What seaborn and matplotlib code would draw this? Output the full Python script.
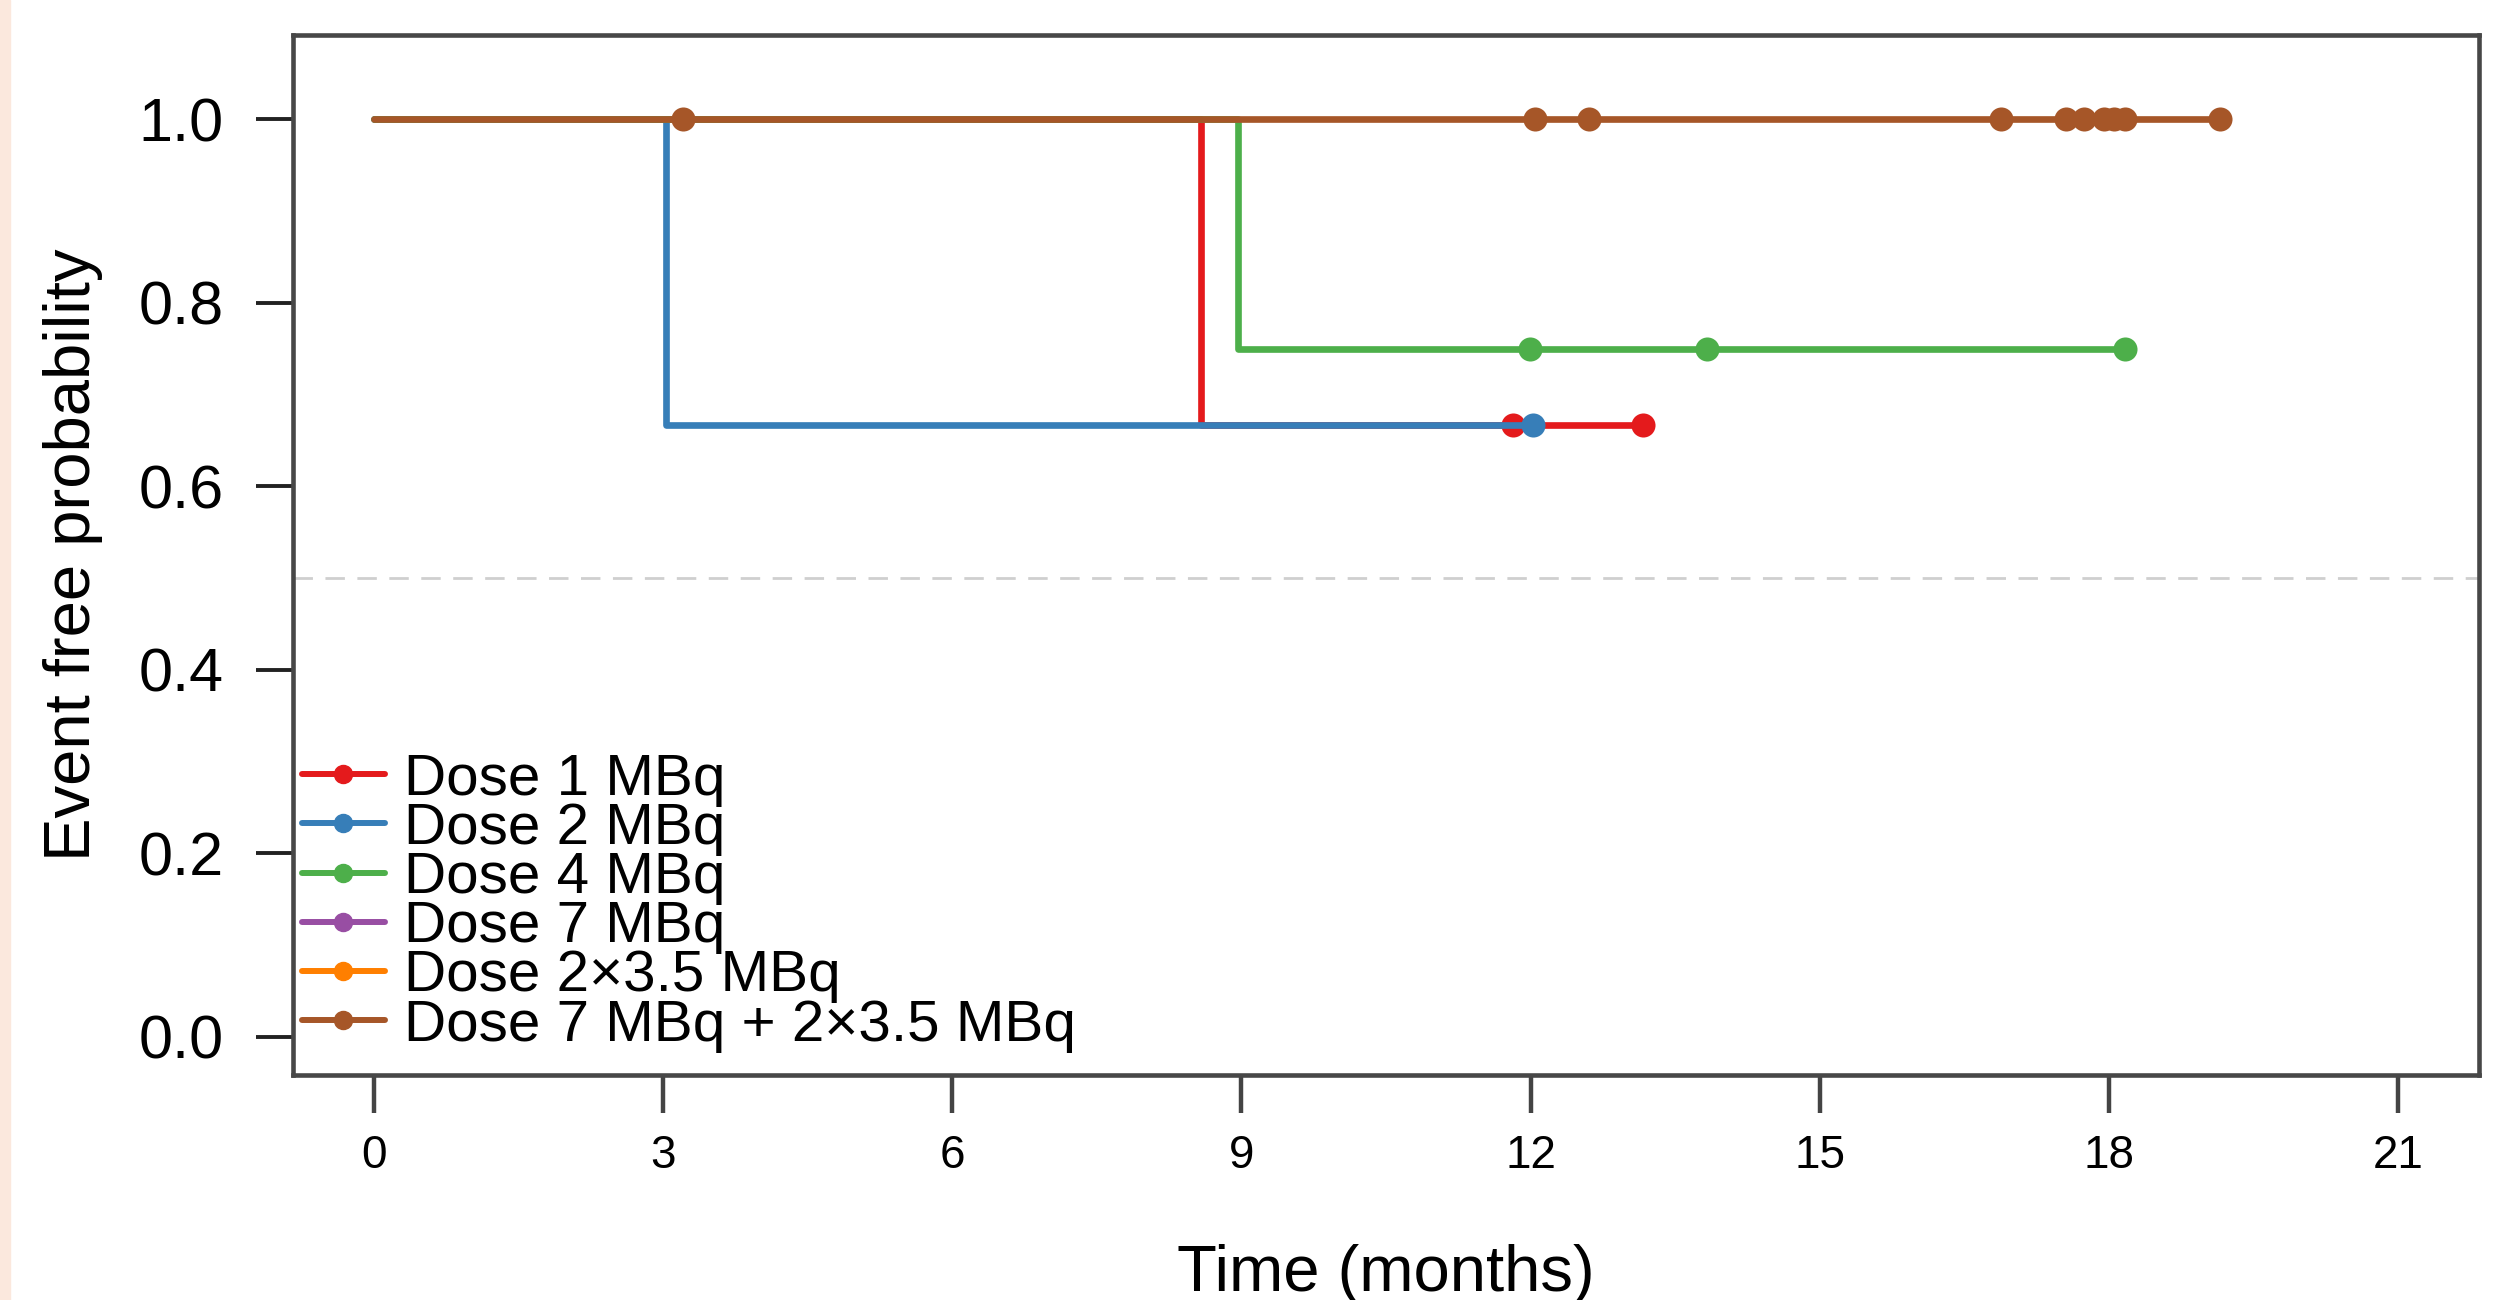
# Kaplan-Meier style event free curves per dose group
import numpy as np
import pandas as pd
import matplotlib.pyplot as plt
import seaborn as sns
from matplotlib.lines import Line2D
from matplotlib.patches import Rectangle

# ---------------------------------------------------
# Data (time in months, event free probability)
# ---------------------------------------------------
groups = ["Dose 1 MBq", "Dose 2 MBq", "Dose 4 MBq", "Dose 7 MBq",
          "Dose 2×3.5 MBq", "Dose 7 MBq + 2×3.5 MBq"]
colors = ["#E41A1C", "#377EB8", "#4DAF4A", "#984EA3", "#FF7F00", "#A65628"]

d1_time = [0, 8.58, 13.17]
d1_prob = [1.0, 0.667, 0.667]
d1_cens = [11.82, 13.17]

d2_time = [0, 3.03, 12.03]
d2_prob = [1.0, 0.667, 0.667]
d2_cens = [12.03]

d4_time = [0, 8.96, 18.17]
d4_prob = [1.0, 0.75, 0.75]
d4_cens = [11.99, 13.83, 18.17]

# 7 MBq and 2x3.5 MBq curves are hidden under the combined curve
d7_time, d7_prob, d7_cens = [], [], []
d35_time, d35_prob, d35_cens = [], [], []

comb_time = [0, 19.15]
comb_prob = [1.0, 1.0]
comb_cens = [3.21, 12.05, 12.61, 16.88, 17.55, 17.74, 17.95, 18.05, 18.17, 19.15]

curves = [(d1_time, d1_prob, d1_cens), (d2_time, d2_prob, d2_cens),
          (d4_time, d4_prob, d4_cens), (d7_time, d7_prob, d7_cens),
          (d35_time, d35_prob, d35_cens), (comb_time, comb_prob, comb_cens)]

step_rows = []
cens_rows = []
for g, (t, p, c) in zip(groups, curves):
    for ti, pi in zip(t, p):
        step_rows.append({"group": g, "time": ti, "prob": pi})
    for ci in c:
        # probability of the step curve at the censoring time
        k = np.searchsorted(t, ci, side="right") - 1
        cens_rows.append({"group": g, "time": ci, "prob": p[k]})
steps = pd.DataFrame(step_rows)
cens = pd.DataFrame(cens_rows)

# ---------------------------------------------------
# Plot
# ---------------------------------------------------
sns.set_style("ticks")
plt.rcParams["font.family"] = ["Liberation Sans", "DejaVu Sans"]
plt.rcParams["text.color"] = "black"
plt.rcParams["axes.labelcolor"] = "black"

fig = plt.figure(figsize=(24.98, 13.0), dpi=100)
fig.patches.append(Rectangle((0, 0), 10 / 2498, 1, transform=fig.transFigure,
                             color="#FBE8DD", zorder=0))
ax = fig.add_axes([0.1173, 0.1727, 0.8751, 0.8004])

# median reference line
ax.axhline(0.5, color="#CFCFCF", lw=2, ls=(0, (7, 4.5)), zorder=1)

for i, (g, col) in enumerate(zip(groups, colors)):
    sub = steps[steps["group"] == g]
    if sub.empty:
        continue
    sns.lineplot(data=sub, x="time", y="prob", color=col, drawstyle="steps-post",
                 estimator=None, sort=False, lw=4.8, ax=ax, legend=False,
                 zorder=3 + 2 * i)
    cs = cens[cens["group"] == g]
    sns.scatterplot(data=cs, x="time", y="prob", color=col, s=300, linewidth=0,
                    ax=ax, legend=False, zorder=4 + 2 * i)

ax.set_xlim(-0.84, 21.84)
ax.set_ylim(-0.042, 1.092)
ax.set_xticks(range(0, 22, 3))
ax.set_yticks([0.0, 0.2, 0.4, 0.6, 0.8, 1.0])
ax.set_yticklabels([f"{v:.1f}" for v in [0.0, 0.2, 0.4, 0.6, 0.8, 1.0]])
ax.tick_params(axis="x", labelsize=33, length=27, width=3.2, pad=15,
               color="#444444", labelcolor="black")
ax.tick_params(axis="y", labelsize=44, length=27, width=2.8, pad=23,
               color="#222222", labelcolor="black")

for s in ax.spines.values():
    s.set_visible(True)
    s.set_linewidth(3.3)
    s.set_color("#474747")

ax.set_xlabel("Time (months)", fontsize=47)
ax.xaxis.set_label_coords(0.5, -0.162)
ax.set_ylabel("Event free probability", fontsize=47)
ax.yaxis.set_label_coords(-0.087, 0.5)

handles = [Line2D([0], [0], color=c, lw=4.3, marker="o", markersize=13) for c in colors]
ax.legend(handles, groups, loc="lower left", bbox_to_anchor=(0.004, 0.022),
          frameon=False, fontsize=42, handlelength=1.42, handletextpad=0.34,
          labelspacing=-0.082, borderpad=0, borderaxespad=0)

fig.savefig("out.png", dpi=100)
